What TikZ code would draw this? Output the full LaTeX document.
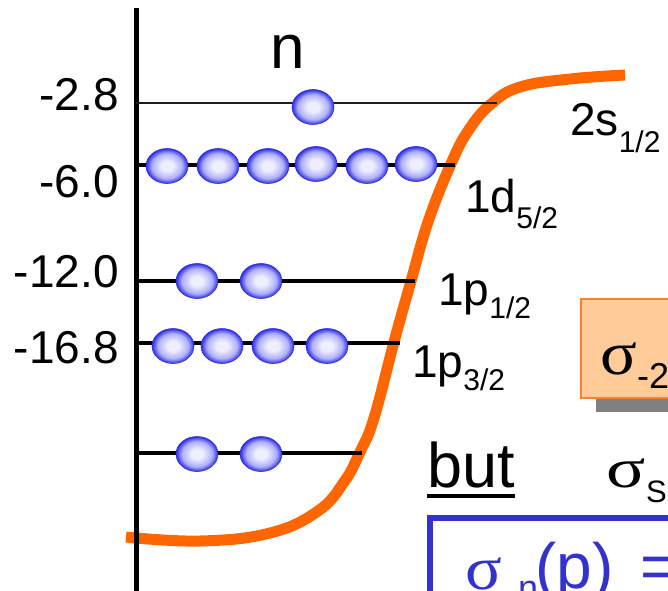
\documentclass[tikz,border=0pt]{standalone}
\usepackage{fontspec}
\setmainfont{Liberation Sans}
\newfontfamily\grkfont{Liberation Serif}
\usetikzlibrary{shapes.geometric}
\definecolor{orangeline}{RGB}{255,102,0}
\definecolor{boxfill}{RGB}{255,204,153}
\definecolor{boxedge}{RGB}{255,128,40}
\definecolor{bluebox}{RGB}{51,51,204}
\definecolor{shadowgray}{RGB}{128,128,128}
\definecolor{ballin}{RGB}{238,238,255}
\definecolor{ballmid}{RGB}{175,175,250}
\definecolor{ballout}{RGB}{45,45,225}
\definecolor{levelgray}{RGB}{30,30,30}
\pgfdeclareradialshading{ballshade}{\pgfpoint{0bp}{0bp}}{color(0bp)=(ballin); color(7bp)=(ballin); color(18bp)=(ballmid); color(25bp)=(ballout); color(50bp)=(ballout)}
\newcommand\setfs[1]{\fontsize{#1}{#1}\selectfont}
\begin{document}
\begin{tikzpicture}[x=1pt,y=-1pt,
  ball/.style={ellipse, minimum width=42pt, minimum height=35pt, inner sep=0pt, shading=ballshade, draw=ballout, line width=0.6pt},
  lvl/.style={anchor=base east, inner sep=0pt, font=\setfs{46}},
  orb/.style={anchor=base west, inner sep=0pt, font=\setfs{46}},
  levelline/.style={line width=3.5pt, black},
  thinlevel/.style={line width=2.5pt, levelgray},
  curve/.style={line width=11pt, orangeline, line cap=butt},
  txt/.style={anchor=base west, inner sep=0pt}]
\useasboundingbox (0,0) rectangle (668,590);
\clip (0,0) rectangle (668,590);
% potential curve
\draw[curve] plot[smooth, tension=0.7] coordinates {(126,537) (200,541) (270,533) (318,511) (344,482) (360,452) (374,418) (394,342) (411,281) (428,222) (450,166) (468,131) (491,104) (520,87) (570,79) (625,75)};
% axis
\coordinate (axtop) at (136,8);
\coordinate (axbot) at (136,600);
\draw[line width=5pt] (axtop) -- (axbot);
% level coordinates
\coordinate (a1) at (136,103); \coordinate (e1) at (497,103);
\coordinate (a2) at (136,165); \coordinate (e2) at (455,165);
\coordinate (a3) at (136,281); \coordinate (e3) at (415,281);
\coordinate (a4) at (136,343); \coordinate (e4) at (400,343);
\coordinate (a5) at (136,453); \coordinate (e5) at (362,453);
\draw[thinlevel] (a1) -- (e1);
\draw[levelline] (a2) -- (e2);
\draw[levelline] (a3) -- (e3);
\draw[levelline] (a4) -- (e4);
\draw[levelline] (a5) -- (e5);
% energy labels
\node[lvl] (l1) at (119,110) {-2.8};
\node[lvl] (l2) at (119,197) {-6.0};
\node[lvl] (l3) at (119,287) {-12.0};
\node[lvl] (l4) at (119,363) {-16.8};
% n label
\node[txt, font=\setfs{62}] (nlab) at (270,68) {n};
% balls
\node[ball] (b11) at (313,107) {};
\node[ball] (b21) at (167,166) {};
\node[ball] (b22) at (218,166) {};
\node[ball] (b23) at (268,166) {};
\node[ball] (b24) at (316,164) {};
\node[ball] (b25) at (367,166) {};
\node[ball] (b26) at (416,164) {};
\node[ball] (b31) at (197,281) {};
\node[ball] (b32) at (261,281) {};
\node[ball] (b41) at (173,346) {};
\node[ball] (b42) at (222,346) {};
\node[ball] (b43) at (273,346) {};
\node[ball] (b44) at (327,346) {};
\node[ball] (b51) at (197,454) {};
\node[ball] (b52) at (261,454) {};
% orbital labels
\node[orb] (o1) at (570,135) {2s\raisebox{-17pt}{\setfs{30}1/2}};
\node[orb] (o2) at (465,212) {1d\raisebox{-16pt}{\setfs{30}5/2}};
\node[orb] (o3) at (438,305) {1p\raisebox{-13pt}{\setfs{30}1/2}};
\node[orb] (o4) at (412,377) {1p\raisebox{-13pt}{\setfs{30}3/2}};
% orange box with shadow
\fill[shadowgray] (596,313) rectangle (700,412);
\node[draw=boxedge, fill=boxfill, line width=1.5pt, anchor=north west, minimum width=130pt, minimum height=99pt, inner sep=0pt] (obox) at (580,298) {};
\node[txt, font=\grkfont\setfs{62}] (osig) at (600,374) {\scalebox{1.1}[1]{σ}};
\node[txt, font=\setfs{36}] (osub) at (637,388) {-2};
% but
\node[txt, font=\setfs{63}] (but) at (427,487) {but};
\draw[line width=4pt] ([yshift=-9pt]but.base west) -- ([yshift=-9pt]but.base east);
\node[txt, font=\grkfont\setfs{56}] (ssig) at (606,487) {\scalebox{1.3}[1]{σ}};
\node[txt, font=\setfs{31}] (ssub) at (646,502) {S};
% blue box
\coordinate (bb1) at (430,610);
\coordinate (bb2) at (430,518);
\coordinate (bb3) at (700,518);
\draw[bluebox, line width=6pt] (bb1) -- (bb2) -- (bb3);
\node[txt, font=\grkfont\setfs{62}, text=bluebox] (bsig) at (465,589) {\scalebox{1.1}[1]{σ}};
\node[txt, font=\setfs{36}, text=bluebox] (bsub) at (518,600) {n};
\node[txt, font=\setfs{64}, text=bluebox] (bp) at (535,588) {(p)\hspace{0.42em}=};
\end{tikzpicture}
\end{document}
